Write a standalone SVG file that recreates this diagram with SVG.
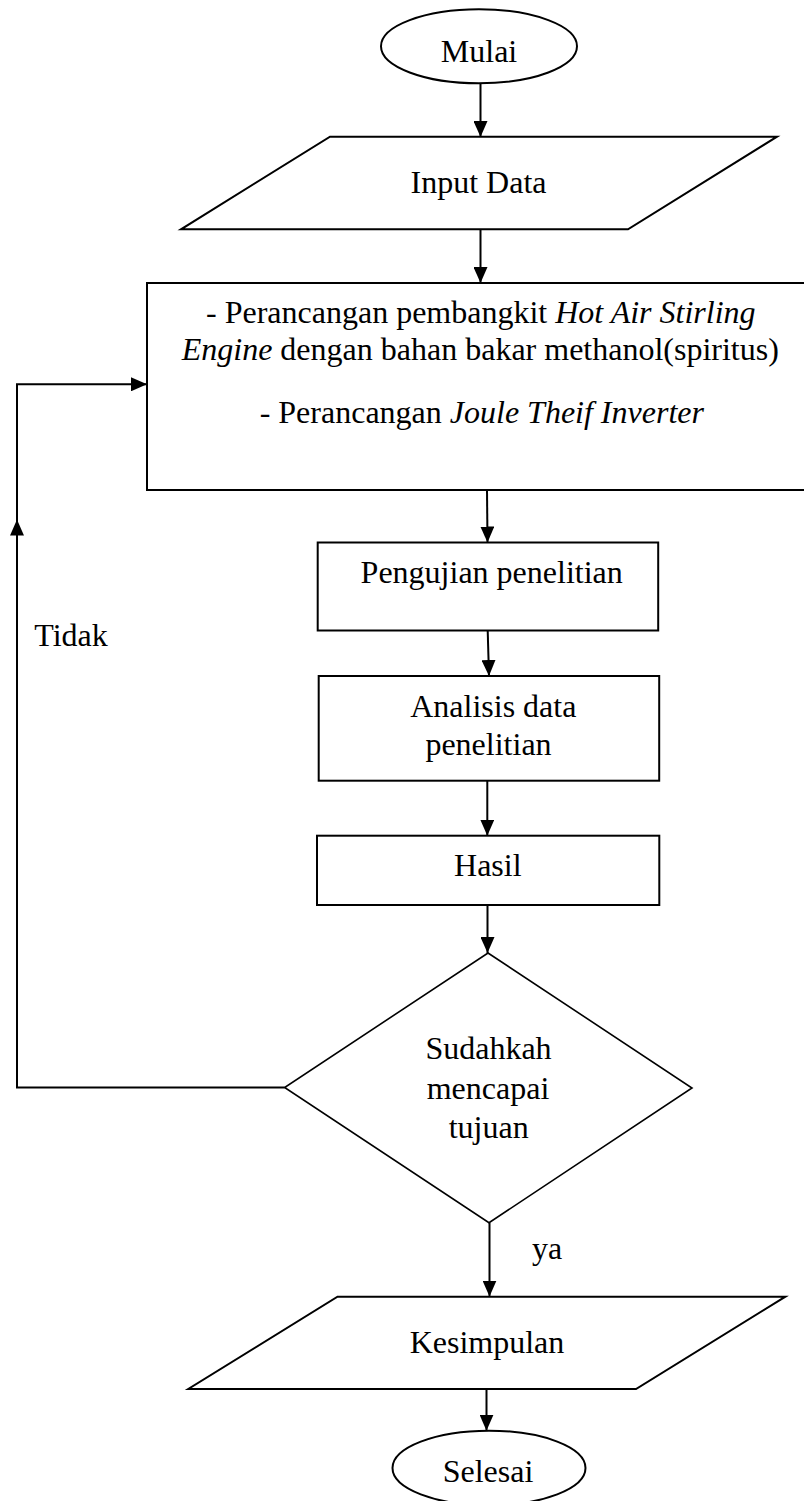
<svg xmlns="http://www.w3.org/2000/svg" width="804" height="1501" viewBox="0 0 804 1501">
<style>
  .shape { fill: #ffffff; stroke: #000000; stroke-width: 2; }
  .thin { fill: #ffffff; stroke: #000000; stroke-width: 1.6; }
  .lbl { font-family: "Liberation Serif", "Times New Roman", serif; font-size: 32px; fill: #000000; text-anchor: middle; }
  .it { font-style: italic; }
  .conn { fill: none; stroke: #000000; stroke-width: 2; }
</style>
<defs>
  <marker id="arr" markerUnits="userSpaceOnUse" markerWidth="16" markerHeight="14" refX="16" refY="7" orient="auto">
    <path d="M0,0 L16,7 L0,14 Z" fill="#000000"/>
  </marker>
</defs>
<rect x="0" y="0" width="804" height="1501" fill="#ffffff"/>

<g id="connectors">
  <path class="conn" d="M480.5,83.5 V137" marker-end="url(#arr)"/>
  <path class="conn" d="M480.5,229.5 V283" marker-end="url(#arr)"/>
  <path class="conn" d="M487,490 L487.5,542.5" marker-end="url(#arr)"/>
  <path class="conn" d="M487.7,630.7 L489,676" marker-end="url(#arr)"/>
  <path class="conn" d="M487.3,781 V835.7" marker-end="url(#arr)"/>
  <path class="conn" d="M487.5,905 V953" marker-end="url(#arr)"/>
  <path class="conn" d="M489.5,1222.7 V1296.5" marker-end="url(#arr)"/>
  <path class="conn" d="M486.5,1389 V1430.7" marker-end="url(#arr)"/>
  <path class="conn" d="M284.6,1087.5 H17 V519.5" marker-end="url(#arr)"/>
  <path class="conn" d="M17,520 V384.3 H147" marker-end="url(#arr)"/>
  <text class="lbl" x="71" y="646">Tidak</text>
  <text class="lbl" x="547" y="1259">ya</text>
</g>

<g id="mulai">
  <ellipse class="shape" cx="479" cy="46.3" rx="98" ry="37"/>
  <text class="lbl" x="479" y="61.5">Mulai</text>
</g>

<g id="input-data">
  <polygon class="shape" points="330,136.7 777,136.7 628,229.3 181,229.3"/>
  <text class="lbl" x="478.5" y="193.3">Input Data</text>
</g>

<g id="perancangan">
  <rect class="shape" x="147" y="283" width="672" height="207"/>
  <text class="lbl" x="480.8" y="322.7">- Perancangan pembangkit <tspan class="it">Hot Air Stirling</tspan></text>
  <text class="lbl" x="480.3" y="360"><tspan class="it">Engine</tspan> dengan bahan bakar methanol(spiritus)</text>
  <text class="lbl" x="481.8" y="423.3">- Perancangan <tspan class="it">Joule Theif Inverter</tspan></text>
</g>

<g id="pengujian">
  <rect class="shape" x="317.7" y="542.5" width="340.5" height="88"/>
  <text class="lbl" x="491.7" y="582.7">Pengujian penelitian</text>
</g>

<g id="analisis">
  <rect class="shape" x="318.7" y="676" width="340.5" height="104.7"/>
  <text class="lbl" x="493.3" y="716.7">Analisis data</text>
  <text class="lbl" x="488.5" y="755">penelitian</text>
</g>

<g id="hasil">
  <rect class="shape" x="317" y="835.7" width="342.3" height="69.3"/>
  <text class="lbl" x="487.8" y="876">Hasil</text>
</g>

<g id="keputusan">
  <polygon class="thin" points="488,953 692,1088 489,1222.7 284.6,1087.5"/>
  <text class="lbl" x="488.5" y="1059">Sudahkah</text>
  <text class="lbl" x="488" y="1099">mencapai</text>
  <text class="lbl" x="488.7" y="1138">tujuan</text>
</g>

<g id="kesimpulan">
  <polygon class="shape" points="337.5,1296.7 785.4,1296.7 636,1389 188.3,1389"/>
  <text class="lbl" x="487" y="1353.3">Kesimpulan</text>
</g>

<g id="selesai">
  <ellipse class="shape" cx="489" cy="1468" rx="96.5" ry="37.3"/>
  <text class="lbl" x="488" y="1481.5">Selesai</text>
</g>
</svg>
